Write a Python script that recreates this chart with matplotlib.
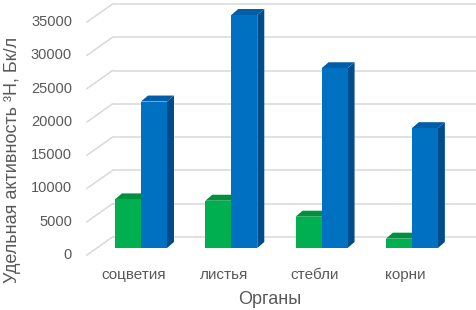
import matplotlib
matplotlib.use("Agg")
import matplotlib.pyplot as plt
from matplotlib.transforms import ScaledTranslation, blended_transform_factory
from matplotlib.patches import Polygon

categories = ["соцветия", "листья", "стебли", "корни"]
series_green = [7300, 7100, 4700, 1400]
series_blue = [22000, 35000, 27000, 18000]
y_ticks = [0, 5000, 10000, 15000, 20000, 25000, 30000, 35000]
y_tick_labels = ["0", "5000", "10000", "15000", "20000", "25000", "30000", "35000"]

W, H = 477, 310
DPI = 100
fig = plt.figure(figsize=(W / DPI, H / DPI), dpi=DPI)
plt.rcParams['font.family'] = ['Liberation Sans', 'DejaVu Sans']

# axes = plane of the bar fronts
left_px, right_px, bot_px, top_px = 97, 460, 248, 15
ax = fig.add_axes([left_px / W, 1 - bot_px / H, (right_px - left_px) / W, (bot_px - top_px) / H])
xmin, xmax = -0.487, 3.533
ymin, ymax = 0, 35000
ax.set_xlim(xmin, xmax)
ax.set_ylim(ymin, ymax)
ax.axis("off")

px_x = (right_px - left_px) / (xmax - xmin)
px_y = (bot_px - top_px) / (ymax - ymin)

def off(dx, dy):
    return ScaledTranslation(dx / DPI, dy / DPI, fig.dpi_scale_trans)

grid_c = "#D9D9D9"
back = off(15.5, 11)
for t in y_ticks:
    ax.plot([xmin, xmax + 15 / px_x], [t, t], color=grid_c, lw=1.1,
            transform=ax.transData + back, clip_on=False, zorder=1, solid_capstyle="butt")
    # diagonal side-wall line
    p_front = ax.transData.transform((xmin, t))
    ax.plot([p_front[0] - 10, p_front[0] + 15.5], [p_front[1] - 7, p_front[1] + 11],
            color=grid_c, lw=1.1, transform=None, clip_on=False, zorder=1)

# bars with pseudo-3D faces
bw = 26 / px_x
ddx = 7 / px_x
ddy = 6 / px_y
colors = [("#00B050", "#00913F", "#007A35"), ("#0070C0", "#005EA8", "#004C8A")]
for i in range(len(categories)):
    for k, vals in enumerate([series_green, series_blue]):
        v = vals[i]
        front, topc, side = colors[k]
        x0 = i - bw + k * bw
        x1 = x0 + bw
        z = 3 + k * 3
        ax.add_patch(Polygon([(x1, 0), (x1 + ddx, ddy), (x1 + ddx, v + ddy), (x1, v)],
                             closed=True, facecolor=side, edgecolor="none", zorder=z, clip_on=False))
        ax.add_patch(Polygon([(x0, v), (x1, v), (x1 + ddx, v + ddy), (x0 + ddx, v + ddy)],
                             closed=True, facecolor=topc, edgecolor="none", zorder=z, clip_on=False))
        ax.bar(x0, v, width=bw, align="edge", color=front, edgecolor="none", zorder=z + 1, clip_on=False)

tick_c = "#595959"
ytrans = blended_transform_factory(ax.transAxes, ax.transData) + off(-25, -7)
for t, lab in zip(y_ticks, y_tick_labels):
    ax.text(0, t, lab, transform=ytrans, ha="right", va="center", fontsize=10.5, color=tick_c)

xtrans = blended_transform_factory(ax.transData, ax.transAxes) + off(-7, -27)
for i, lab in enumerate(categories):
    ax.text(i, 0, lab, transform=xtrans, ha="center", va="center", fontsize=11, color=tick_c)

fig.text(269.5 / W, 1 - 299 / H, "Органы", ha="center", va="center", fontsize=13, color=tick_c)
fig.text(13 / W, 1 - 160 / H, "Удельная активность ³H, Бк/л", ha="center", va="center",
         rotation=90, fontsize=13, color=tick_c)

fig.savefig("out.png", dpi=DPI)
